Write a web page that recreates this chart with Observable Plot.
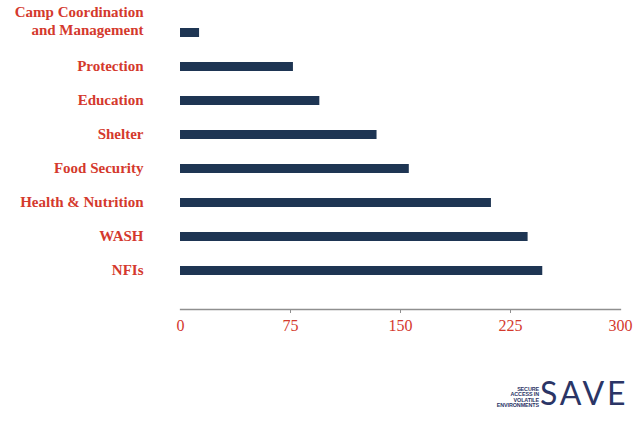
<!DOCTYPE html>
<html>
<head>
<meta charset="utf-8">
<script src="https://cdn.jsdelivr.net/npm/d3@7"></script>
<script src="https://cdn.jsdelivr.net/npm/@observablehq/plot@0.6"></script>
<style>
  html, body { margin: 0; padding: 0; background: #fff; }
  body { width: 640px; height: 421px; position: relative; overflow: hidden; }
  #logo { position: absolute; left: 480px; top: 370px; width: 160px; height: 51px; }
  #logo .small { position: absolute; right: 101px; top: 16.5px; text-align: right;
    font-family: "Liberation Sans", Arial, sans-serif; font-weight: bold; font-size: 5.4px;
    line-height: 5.5px; color: #2b3566; letter-spacing: -0.1px; }
  #logo .big { position: absolute; left: 60px; top: 7px; font-family: Lato, "Open Sans", sans-serif;
    font-weight: 400; font-size: 32px; line-height: 32px; color: #2b3566; letter-spacing: 2.8px; }
</style>
</head>
<body>
<div id="chart"></div>
<div id="logo">
  <div class="small">SECURE<br>ACCESS IN<br>VOLATILE<br>ENVIRONMENTS</div>
  <div class="big">SAVE</div>
</div>
<script>
const categories = ["Camp Coordination\nand Management", "Protection", "Education", "Shelter",
  "Food Security", "Health & Nutrition", "WASH", "NFIs"];
const values = [13, 77, 95, 134, 156, 212, 237, 247];
const xTicks = [0, 75, 150, 225, 300];
const minorTicks = [75, 150, 225];

const data = categories.map((c, i) => ({category: c, value: values[i]}));
const red = "#d4392d";
const navy = "#1e3553";

const chart = Plot.plot({
  width: 640,
  height: 345,
  marginLeft: 180,
  marginRight: 20,
  marginTop: 0,
  marginBottom: 36,
  style: {fontFamily: "'Liberation Serif', 'DejaVu Serif', serif", background: "#fff"},
  x: {domain: [0, 300], axis: null, label: null},
  y: {domain: categories, range: [0.5, 302.3], padding: 0.748, axis: null, label: null},
  marks: [
    Plot.barX(data, {x: "value", y: "category", fill: navy}),
    Plot.frame({anchor: "bottom", stroke: "#8f8f8f", strokeWidth: 1.3}),
    Plot.axisX({ticks: minorTicks, tickSize: 4, stroke: "#8f8f8f", tickFormat: () => "", label: null}),
    Plot.axisX({ticks: xTicks, tickSize: 0, tickPadding: 10, fill: red, fontSize: 16,
      tickFormat: d => String(d), label: null}),
    Plot.text(data.filter(d => !d.category.includes("\n")), {
      y: "category", text: "category", frameAnchor: "left", dx: -37, dy: -1, textAnchor: "end",
      fill: red, fontSize: 15, fontWeight: "bold"
    }),
    Plot.text(data.filter(d => d.category.includes("\n")), {
      y: "category", text: "category", frameAnchor: "left", dx: -37, dy: -13, textAnchor: "end",
      lineHeight: 1.2, fill: red, fontSize: 15, fontWeight: "bold"
    })
  ]
});
document.getElementById("chart").appendChild(chart);
</script>
</body>
</html>
